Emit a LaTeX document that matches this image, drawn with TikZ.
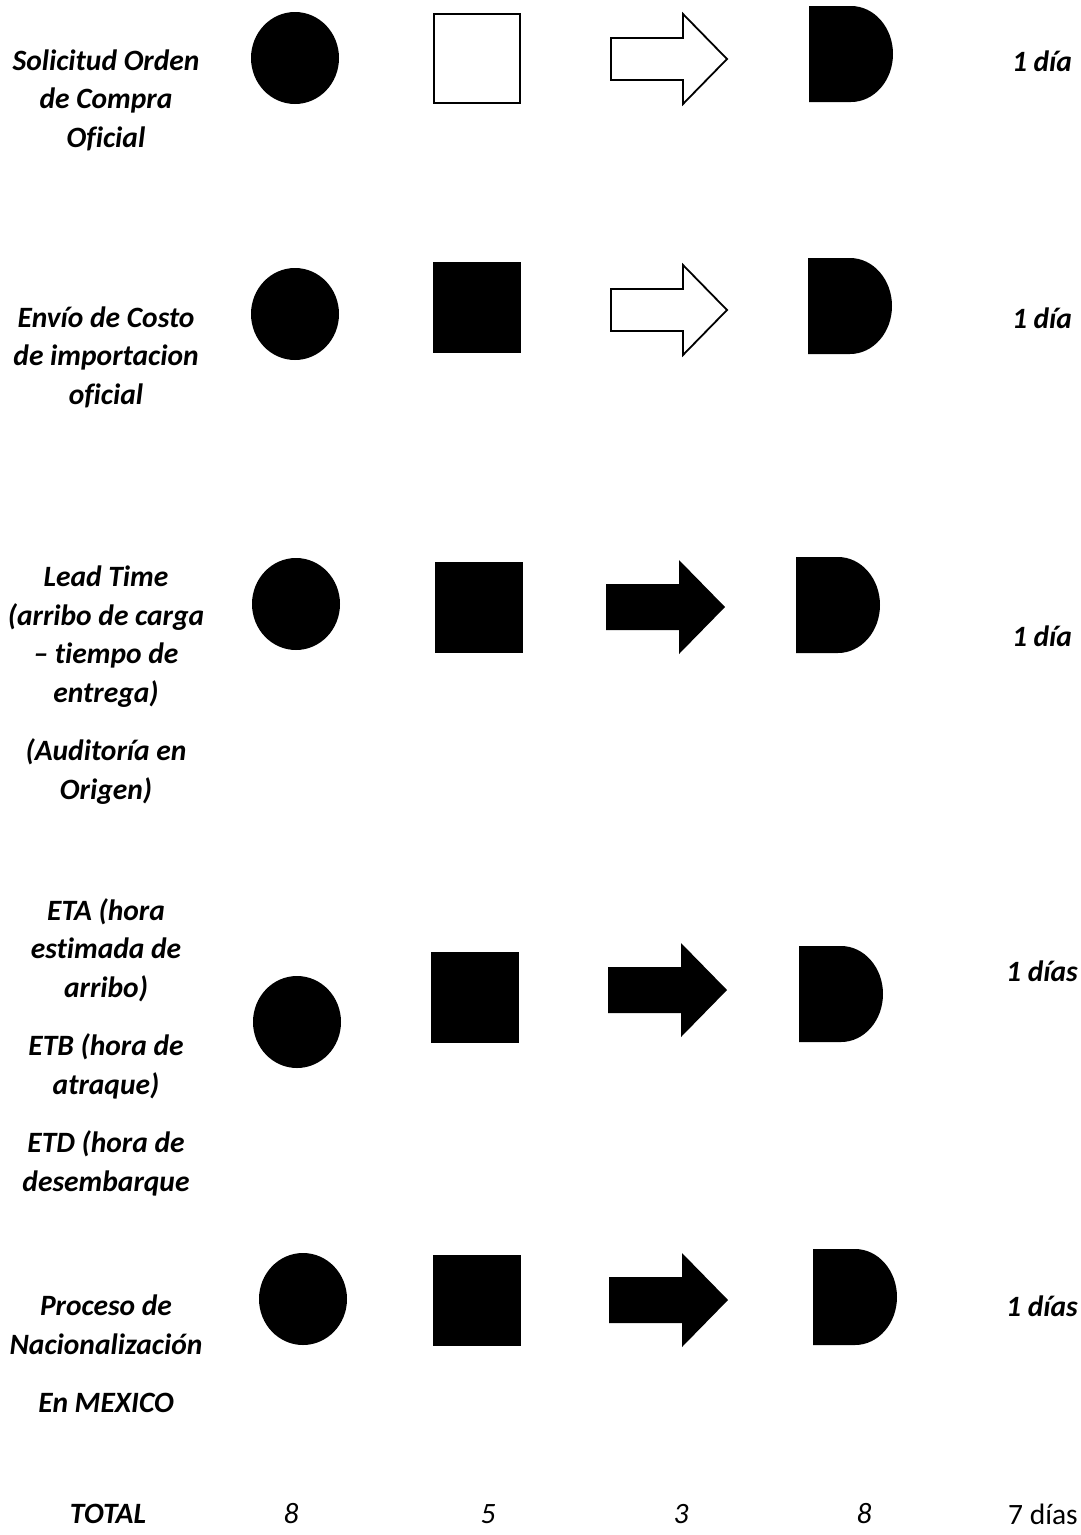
\documentclass[tikz,border=0pt]{standalone}
\usepackage{fontspec}
\setmainfont[Ligatures=CommonOff]{Carlito}
\usetikzlibrary{shapes.geometric}
\tikzset{
  lbl/.style={font=\bfseries\itshape\fontsize{29.5}{38.5}\selectfont, align=center, inner sep=0pt},
  tot/.style={font=\itshape\fontsize{29.5}{38.5}\selectfont, inner sep=0pt},
  dot/.style={ellipse, fill=black, minimum width=88pt, minimum height=92pt, inner sep=0pt},
  sqfull/.style={rectangle, fill=black, minimum width=88pt, minimum height=91pt, inner sep=0pt},
  sqopen/.style={rectangle, draw=black, line width=2pt, fill=white, minimum width=86pt, minimum height=89pt, inner sep=0pt},
  arrowopen/.pic={\draw[line width=1.8pt, line join=miter, fill=white] (-58,-21) -- (14,-21) -- (14,-45) -- (58,0) -- (14,45) -- (14,21) -- (-58,21) -- cycle;},
  arrowfull/.pic={\fill (-59,-23) -- (14,-23) -- (14,-47) -- (60,0) -- (14,47) -- (14,23) -- (-59,23) -- cycle;},
  dshape/.pic={\fill (-42,-48) -- (0,-48) arc[start angle=-90, end angle=90, x radius=42, y radius=48] -- (-42,48) -- cycle;},
}
\begin{document}
\begin{tikzpicture}[x=1pt, y=-1pt]
\useasboundingbox (0,0) rectangle (1080,1535);
% Row 1
\node[lbl] (t1) at (106,100) {Solicitud Orden\\de Compra\\Oficial};
\node[dot] (c1) at (295,58) {};
\node[sqopen] (s1) at (477,58) {};
\pic at (669,59) {arrowopen};
\pic at (851,54) {dshape};
\node[lbl] (d1) at (1042,61) {1 día};
% Row 2
\node[lbl] (t2) at (106,357) {Envío de Costo\\de importacion\\oficial};
\node[dot] (c2) at (295,314) {};
\node[sqfull] (s2) at (477,307) {};
\pic at (669,310) {arrowopen};
\pic at (850,306) {dshape};
\node[lbl] (d2) at (1042,318) {1 día};
% Row 3
\node[lbl] (t3) at (106,685) {Lead Time\\(arribo de carga\\– tiempo de\\entrega)\\[20pt](Auditoría en\\Origen)};
\node[dot] (c3) at (296,604) {};
\node[sqfull] (s3) at (479,607) {};
\pic at (665,607) {arrowfull};
\pic at (838,605) {dshape};
\node[lbl] (d3) at (1042,636) {1 día};
% Row 4
\node[lbl] (t4) at (106,1047) {ETA (hora\\estimada de\\arribo)\\[20pt]ETB (hora de\\atraque)\\[20pt]ETD (hora de\\desembarque};
\node[dot] (c4) at (297,1022) {};
\node[sqfull] (s4) at (475,997) {};
\pic at (667,990) {arrowfull};
\pic at (841,994) {dshape};
\node[lbl] (d4) at (1042,971) {1 días};
% Row 5
\node[lbl] (t5) at (106,1354) {Proceso de\\Nacionalización\\[20pt]En MEXICO};
\node[dot] (c5) at (303,1299) {};
\node[sqfull] (s5) at (477,1300) {};
\pic at (668,1300) {arrowfull};
\pic at (855,1297) {dshape};
\node[lbl] (d5) at (1042,1306) {1 días};
% Total row
\node[lbl] (tt) at (108,1514) {TOTAL};
\node[tot] (n1) at (291,1514) {8};
\node[tot] (n2) at (488,1514) {5};
\node[tot] (n3) at (681,1514) {3};
\node[tot] (n4) at (864,1514) {8};
\node[tot, font=\fontsize{29.5}{38.5}\selectfont] (n5) at (1043,1514) {7 días};
\end{tikzpicture}
\end{document}
